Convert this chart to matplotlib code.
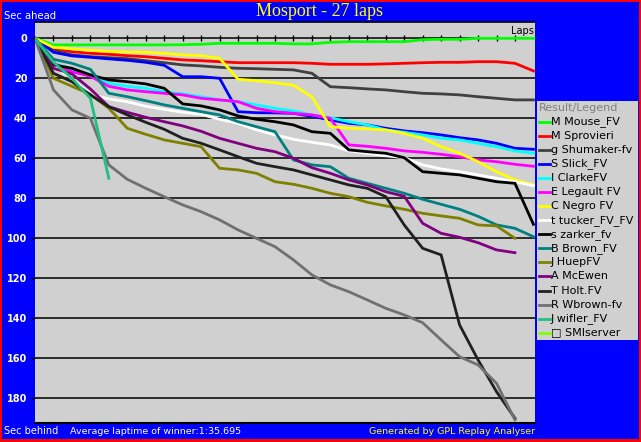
import matplotlib
matplotlib.use("Agg")
import matplotlib.pyplot as plt
from matplotlib.patches import Rectangle
from matplotlib.lines import Line2D

W, H = 641, 442

# seconds behind the leader at the end of each lap (lap 0 = start)
drivers = ["M Mouse_FV", "M Sprovieri", "g Shumaker-fv", "S Slick_FV", "I ClarkeFV",
           "E Legault FV", "C Negro FV", "t tucker_FV_FV", "s zarker_fv", "B Brown_FV",
           "J HuepFV", "A McEwen", "T Holt.FV", "R Wbrown-fv", "J wifler_FV", "\u25a1 SMIserver"]
colors = ["#00ff00", "#ff0000", "#404040", "#0000ff", "#00ffff", "#ff00ff", "#ffff00",
          "#ffffff", "#000000", "#008080", "#808000", "#800080", "#202020", "#707070",
          "#20c080", "#80ff00"]

mouse = [0, 3.3, 3.3, 3.3, 3.3, 3.3, 3.3, 3.3, 3.2, 3.0, 2.5, 2.5, 2.5, 2.5, 2.8, 2.8,
         2.0, 1.7, 1.7, 1.7, 1.7, 0.7, 0.5, 0.5, 0, 0, 0, 0]
sprovieri = [0, 5.3, 6.7, 7.5, 8.0, 8.7, 9.2, 10.0, 10.8, 11.2, 11.7, 12.2, 12.2, 12.2, 12.2,
             12.5, 13.0, 13.0, 13.0, 12.8, 12.5, 12.2, 12.0, 12.0, 11.7, 11.7, 12.5, 16.3]
shumaker = [0, 6.2, 8.3, 9.2, 9.7, 10.2, 11.2, 12.2, 13.3, 13.8, 14.5, 15.0, 15.2, 15.5, 15.8,
            17.5, 24.2, 24.7, 25.3, 25.8, 26.7, 27.5, 27.8, 28.3, 29.2, 30.0, 30.8, 30.8]
slick = [0, 7.0, 8.8, 9.5, 10.3, 11.0, 12.0, 13.5, 19.2, 19.2, 20.0, 36.7, 37.2, 37.3, 37.5,
         39.0, 40.8, 42.5, 43.3, 45.0, 46.3, 47.2, 48.3, 49.7, 50.8, 52.5, 55.0, 55.5]
clarke = [0, 12.5, 15.5, 18.3, 22.5, 24.0, 25.0, 26.7, 27.8, 29.2, 30.8, 31.7, 33.3, 35.0, 36.3,
          38.3, 39.7, 41.7, 43.3, 45.8, 47.0, 48.3, 50.0, 50.8, 52.5, 54.2, 56.3, 57.5]
legault = [0, 12.5, 16.7, 19.0, 24.0, 25.8, 26.7, 27.5, 28.3, 30.0, 30.8, 31.7, 35.0, 36.7, 37.5,
           38.3, 40.0, 53.3, 54.0, 55.0, 56.3, 57.0, 58.0, 59.2, 60.8, 61.7, 63.0, 64.0]
negro = [0, 4.5, 5.3, 6.0, 6.5, 6.8, 7.0, 7.5, 8.3, 8.7, 10.0, 20.5, 21.2, 22.2, 23.5,
         29.2, 44.2, 45.0, 45.3, 45.8, 47.5, 50.0, 54.2, 57.5, 61.7, 66.7, 70.8, 73.3]
tucker = [0, 14.0, 20.0, 28.0, 30.3, 31.7, 34.0, 35.5, 37.0, 38.0, 40.5, 42.5, 45.8, 48.3, 50.5,
          52.0, 53.3, 56.3, 57.5, 58.7, 59.7, 63.3, 65.3, 66.7, 68.3, 70.0, 71.7, 73.7]
zarker = [0, 13.3, 15.0, 18.3, 20.8, 21.7, 22.8, 25.0, 32.8, 33.8, 35.8, 38.8, 40.5, 41.7, 43.3,
          46.7, 47.5, 55.8, 56.7, 57.5, 59.7, 66.7, 67.5, 68.3, 70.0, 71.7, 72.5, 93.0]
brown = [0, 10.5, 12.5, 15.5, 27.5, 29.2, 31.2, 33.3, 35.0, 36.7, 38.3, 41.7, 44.2, 46.7, 60.8,
         63.3, 64.2, 70.0, 72.5, 75.0, 77.5, 80.5, 83.0, 85.5, 89.0, 93.3, 95.0, 99.2]
huep = [0, 20.0, 24.0, 28.0, 35.0, 45.0, 48.0, 50.8, 52.5, 54.2, 65.0, 65.8, 67.5, 71.7, 73.0,
        75.0, 77.5, 79.2, 82.0, 83.8, 85.5, 87.5, 88.8, 90.0, 93.3, 93.8, 100.0]
mcewen = [0, 15.0, 17.8, 25.3, 34.2, 37.0, 39.5, 41.7, 43.8, 46.5, 50.0, 52.5, 55.0, 56.7, 60.0,
          64.7, 67.5, 70.8, 73.3, 76.7, 79.0, 92.5, 97.5, 99.5, 102.2, 105.8, 107.2]
holt = [0, 17.5, 21.7, 28.3, 34.2, 38.3, 42.0, 45.5, 50.0, 52.5, 55.8, 59.2, 62.5, 64.2, 65.8,
        68.3, 70.8, 73.3, 75.0, 79.2, 93.3, 105.0, 108.3, 143.3, 160.8, 176.7, 190.0]
wbrown = [0, 25.8, 35.8, 40.0, 63.3, 70.5, 75.0, 79.2, 83.3, 86.7, 90.8, 95.8, 100.0, 104.2, 110.8,
          118.3, 123.3, 126.7, 130.8, 135.0, 138.3, 142.2, 150.8, 159.2, 163.3, 172.5, 190.8]
wifler = [0, 12.0, 20.0, 30.0, 70.0]
smiserver = [0]

series = [mouse, sprovieri, shumaker, slick, clarke, legault, negro, tucker, zarker,
          brown, huep, mcewen, holt, wbrown, wifler, smiserver]

yticks = [0, 20, 40, 60, 80, 100, 120, 140, 160, 180]
laps = 27

fig = plt.figure(figsize=(W / 100, H / 100), dpi=100)
fig.patch.set_facecolor("#ff0000")
fig.patches.append(Rectangle((2 / W, 3 / H), 637 / W, 437 / H, transform=fig.transFigure,
                             facecolor="#0000ff", edgecolor="none", zorder=-10))

def fx(x):
    return x / W

def fy(y):
    return 1 - y / H

ax = fig.add_axes([fx(35), fy(423), 500 / W, 401 / H])
ax.set_facecolor("#d0d0d0")
ax.set_xlim(0, 500 / 18.46)
ax.set_ylim(192.35, -8.15)

for s, c in zip(series, colors):
    ax.plot(range(len(s)), s, color=c, lw=2.0, zorder=3, solid_joinstyle="miter")

# horizontal grid
for v in yticks[1:]:
    ax.axhline(v, color="black", lw=1.1, zorder=2)

# lap axis along the zero line
ax.spines["bottom"].set_position(("data", 0))
ax.spines["bottom"].set_bounds(0, laps)
ax.spines["bottom"].set_linewidth(1.1)
ax.spines["top"].set_linewidth(1.2)
ax.spines["left"].set_visible(False)
ax.spines["right"].set_visible(False)
ax.axhline(192.35, color="black", lw=1.5, clip_on=False, zorder=4)
ax.set_xticks(range(1, laps))
ax.tick_params(axis="x", direction="inout", length=5, width=1, labelbottom=False)
ax.set_yticks(yticks)
ax.set_yticklabels([str(v) for v in yticks], color="white", fontweight="bold", fontsize=7)
ax.tick_params(axis="y", direction="out", length=3, width=1, pad=2.5)

fig.text(fx(320), fy(11), "Mosport - 27 laps", color="#ffff00", fontsize=13,
         family="Liberation Serif", ha="center", va="center")
fig.text(fx(4), fy(16), "Sec ahead", color="white", fontsize=7.2, va="center")
fig.text(fx(534), fy(31), "Laps", color="black", fontsize=7, ha="right", va="center")
fig.text(fx(4), fy(431), "Sec behind", color="white", fontsize=7, va="center")
fig.text(fx(70), fy(431), "Average laptime of winner:1:35.695", color="white", fontsize=6.8,
         va="center")
fig.text(fx(535), fy(431), "Generated by GPL Replay Analyser", color="#ffff00", fontsize=6.8,
         ha="right", va="center")

# legend box
fig.patches.append(Rectangle((fx(537), fy(340)), 101 / W, 239 / H, transform=fig.transFigure,
                             facecolor="#d0d0d0", edgecolor="none", zorder=1))
fig.text(fx(539), fy(108), "Result/Legend", color="#808080", fontsize=8, va="center")
for i, (name, c) in enumerate(zip(drivers, colors)):
    y = 121.7 + 14.07 * i
    fig.lines.append(Line2D([fx(539), fx(550)], [fy(y), fy(y)], transform=fig.transFigure,
                            color=c, lw=2.0))
    fig.text(fx(551), fy(y), name, color="black", fontsize=8, va="center")

fig.savefig("out.png", dpi=100, facecolor=fig.get_facecolor())
